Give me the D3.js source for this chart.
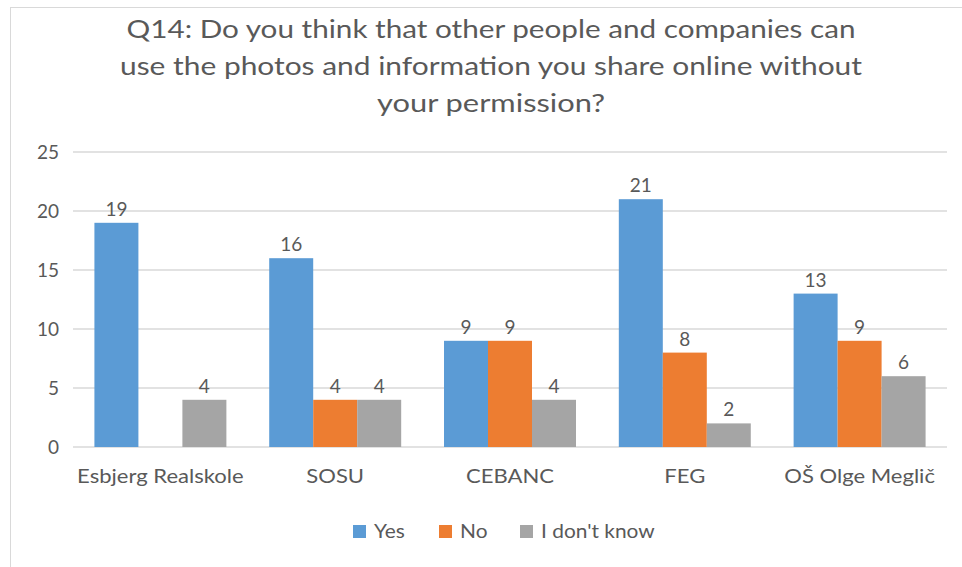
<!DOCTYPE html>
<html>
<head>
<meta charset="utf-8">
<script src="https://cdn.jsdelivr.net/npm/d3@7"></script>
<style>
  html, body { margin: 0; padding: 0; background: #fff; }
  svg { display: block; }
  text { font-family: Lato, "Open Sans", sans-serif; fill: #595959; }
</style>
</head>
<body>
<svg id="chart" width="962" height="567"></svg>
<script>
// Survey answers per school
const categories = ["Esbjerg Realskole", "SOSU", "CEBANC", "FEG", "OŠ Olge Meglič"];
const seriesNames = ["Yes", "No", "I don't know"];
const yesValues = [19, 16, 9, 21, 13];
const noValues = [null, 4, 9, 8, 9];
const dontKnowValues = [4, 4, 4, 2, 6];
const yTicks = [0, 5, 10, 15, 20, 25];
const titleLines = [
  "Q14: Do you think that other people and companies can",
  "use the photos and information you share online without",
  "your permission?"
];

const seriesValues = [yesValues, noValues, dontKnowValues];
const colors = ["#5B9BD5", "#ED7D31", "#A5A5A5"];
const FONT = "Lato, 'Open Sans', sans-serif";

const svg = d3.select("#chart");

// widen text a little to get the open Calibri-like set width
function widen(sel, factor) {
  sel.each(function () {
    const w = this.getComputedTextLength();
    d3.select(this).attr("textLength", w * factor).attr("lengthAdjust", "spacingAndGlyphs");
  });
}

// chart frame
svg.append("rect")
  .attr("x", 10.5).attr("y", 7.5)
  .attr("width", 1000).attr("height", 600)
  .attr("fill", "#fff").attr("stroke", "#d9d9d9").attr("stroke-width", 1);

// title
const titleWidths = [729, 742, 228];
svg.append("g").selectAll("text")
  .data(titleLines)
  .join("text")
  .attr("x", 491)
  .attr("y", (d, i) => 38 + i * 37)
  .attr("text-anchor", "middle")
  .attr("font-size", 25)
  .attr("textLength", (d, i) => titleWidths[i])
  .attr("lengthAdjust", "spacingAndGlyphs")
  .text(d => d);

const plot = { left: 73, right: 947, top: 152, bottom: 447 };

const x0 = d3.scaleBand()
  .domain(categories)
  .range([plot.left, plot.right])
  .paddingInner(0)
  .paddingOuter(0);

const groupWidth = x0.bandwidth() * 0.755;
const x1 = d3.scaleBand()
  .domain(d3.range(seriesNames.length))
  .range([0, groupWidth]);

const y = d3.scaleLinear()
  .domain([0, 25])
  .range([plot.bottom, plot.top]);

// gridlines
svg.append("g").selectAll("line")
  .data(yTicks)
  .join("line")
  .attr("x1", plot.left).attr("x2", plot.right)
  .attr("y1", d => y(d)).attr("y2", d => y(d))
  .attr("stroke", "#d9d9d9").attr("stroke-width", 1.5);

// y axis labels
const yAxis = d3.axisLeft(y).tickValues(yTicks).tickSize(0).tickPadding(0);
const yg = svg.append("g")
  .attr("transform", `translate(${plot.left - 14},0)`)
  .call(yAxis);
yg.select(".domain").remove();
yg.selectAll("text")
  .attr("font-size", 19)
  .attr("fill", "#595959")
  .style("font-family", FONT);

// bars
const rows = categories.map((c, ci) => ({
  category: c,
  values: seriesValues.map((s, si) => ({ si, value: s[ci] }))
}));

const groups = svg.append("g").selectAll("g")
  .data(rows)
  .join("g")
  .attr("transform", d => `translate(${x0(d.category) + (x0.bandwidth() - groupWidth) / 2},0)`);

groups.selectAll("rect")
  .data(d => d.values.filter(v => v.value != null))
  .join("rect")
  .attr("x", d => x1(d.si))
  .attr("width", x1.bandwidth())
  .attr("y", d => y(d.value))
  .attr("height", d => y(0) - y(d.value))
  .attr("fill", d => colors[d.si]);

groups.selectAll("text")
  .data(d => d.values.filter(v => v.value != null))
  .join("text")
  .attr("x", d => x1(d.si) + x1.bandwidth() / 2)
  .attr("y", d => y(d.value) - 7)
  .attr("text-anchor", "middle")
  .attr("font-size", 19)
  .attr("fill", "#404040")
  .text(d => d.value);

// category axis labels
const xAxis = d3.axisBottom(x0).tickSize(0).tickPadding(0);
const xg = svg.append("g")
  .attr("transform", `translate(0,${plot.bottom})`)
  .call(xAxis);
xg.select(".domain").remove();
xg.selectAll("text")
  .attr("font-size", 19)
  .attr("fill", "#595959")
  .attr("dy", null)
  .attr("y", 36)
  .style("font-family", FONT)
  .call(widen, 1.16);

// legend
const legendX = [353, 439, 520];
const legend = svg.append("g").selectAll("g")
  .data(seriesNames)
  .join("g")
  .attr("transform", (d, i) => `translate(${legendX[i]},525)`);
legend.append("rect")
  .attr("width", 13).attr("height", 13)
  .attr("fill", (d, i) => colors[i]);
legend.append("text")
  .attr("x", 21).attr("y", 13)
  .attr("font-size", 19)
  .text(d => d)
  .call(widen, 1.1);
</script>
</body>
</html>
